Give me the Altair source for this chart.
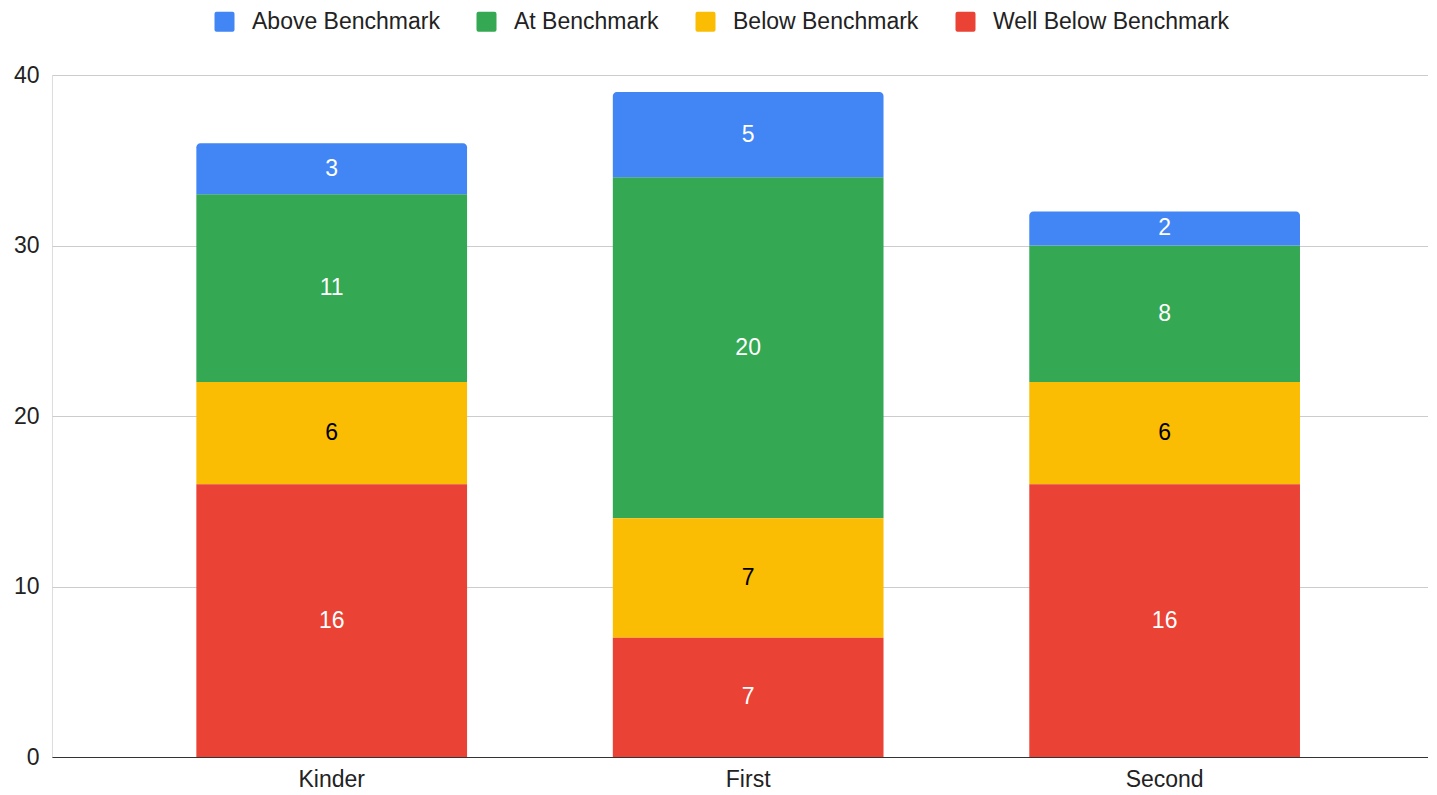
import altair as alt
import pandas as pd

grades = ["Kinder", "First", "Second"]
levels = ["Above Benchmark", "At Benchmark", "Below Benchmark", "Well Below Benchmark"]
colors = ["#4285F4", "#34A853", "#FBBC04", "#EA4335"]
label_colors = ["#ffffff", "#ffffff", "#000000", "#ffffff"]
above = [3, 5, 2]
at = [11, 20, 8]
below = [6, 7, 6]
well_below = [16, 7, 16]

series = [above, at, below, well_below]
rows = []
for li, (lvl, vals) in enumerate(zip(levels, series)):
    for g, v in zip(grades, vals):
        rows.append({"grade": g, "level": lvl, "value": v,
                     "order": 3 - li, "lcolor": label_colors[li]})
df = pd.DataFrame(rows)

FONT = "Liberation Sans"
FS = 23
ROUND_SQ = ("M-0.8,-1 L0.8,-1 Q1,-1 1,-0.8 L1,0.8 Q1,1 0.8,1 L-0.8,1 "
            "Q-1,1 -1,0.8 L-1,-0.8 Q-1,-1 -0.8,-1 Z")

base = alt.Chart(df).transform_stack(
    stack="value", groupby=["grade"], as_=["y0", "y1"],
    sort=[alt.SortField("order", order="ascending")]
).transform_calculate(ymid="(datum.y0 + datum.y1) / 2")

xscale = alt.Scale(paddingInner=0.35, paddingOuter=0.327, align=0.53)
xenc = alt.X("grade:N", sort=grades, title=None, scale=xscale,
             axis=alt.Axis(labelAngle=0, labelFontSize=FS, labelFont=FONT,
                           labelColor="#222222", labelPadding=11, ticks=False,
                           domain=True, domainColor="#333333", domainWidth=1.2,
                           grid=False))
yscale = alt.Scale(domain=[0, 40], nice=False)
cscale = alt.Scale(domain=levels, range=colors)

bars = base.transform_filter(alt.datum.level != "Above Benchmark").mark_bar().encode(
    x=xenc,
    y=alt.Y("y0:Q", scale=yscale, title=None,
            axis=alt.Axis(values=[0, 10, 20, 30, 40], labelFontSize=FS, labelFont=FONT,
                          labelColor="#222222", labelPadding=13, ticks=False,
                          domain=False, gridColor="#cccccc", gridWidth=1)),
    y2="y1:Q",
    color=alt.Color("level:N", scale=cscale, sort=levels, title=None,
                    legend=alt.Legend(orient="none", direction="horizontal",
                                      legendX=161, legendY=-65,
                                      symbolType=ROUND_SQ, symbolSize=400,
                                      symbolStrokeWidth=0, symbolOpacity=1,
                                      labelFontSize=FS, labelFont=FONT, labelLimit=600,
                                      labelColor="#222222", labelOffset=16,
                                      columnPadding=35, padding=0)),
)

tops = base.transform_filter(alt.datum.level == "Above Benchmark").mark_bar(
    cornerRadiusTopLeft=4, cornerRadiusTopRight=4
).encode(x=alt.X("grade:N", sort=grades), y=alt.Y("y0:Q", scale=yscale), y2="y1:Q",
         color=alt.Color("level:N", scale=cscale, sort=levels, legend=None))

labels = base.mark_text(fontSize=FS, font=FONT, baseline="middle", align="center").encode(
    x=alt.X("grade:N", sort=grades),
    y=alt.Y("ymid:Q", scale=yscale),
    text="value:Q",
    color=alt.Color("lcolor:N", scale=None, legend=None),
)

chart = alt.layer(bars, tops, labels).resolve_scale(color="independent").properties(
    width=1376, height=682,
    padding={"left": 5, "top": 2, "right": 0, "bottom": 0},
).configure_view(stroke=None).configure(background="white")

chart.save("out.html", embed_options={"renderer": "svg", "actions": False})
